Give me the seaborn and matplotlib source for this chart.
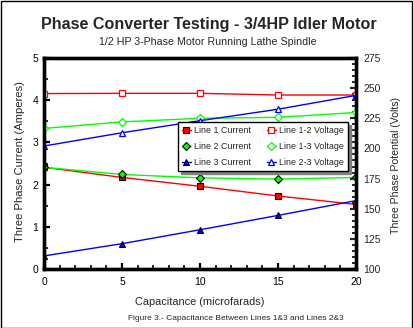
import matplotlib
matplotlib.use("Agg")
import matplotlib.pyplot as plt
from matplotlib.ticker import MultipleLocator
from matplotlib.patches import Rectangle
import seaborn as sns
import pandas as pd

# ---- data ----
capacitance = [0, 5, 10, 15, 20]
line1_current = [2.41, 2.17, 1.96, 1.73, 1.53]
line2_current = [2.41, 2.24, 2.16, 2.13, 2.17]
line3_current = [0.31, 0.60, 0.93, 1.27, 1.62]
line12_voltage = [245.5, 245.7, 245.7, 244.3, 244.3]
line13_voltage = [216.6, 222.0, 225.0, 225.8, 229.8]
line23_voltage = [202.0, 213.0, 223.0, 232.5, 244.0]

current_names = ["Line 1 Current", "Line 2 Current", "Line 3 Current"]
voltage_names = ["Line 1-2 Voltage", "Line 1-3 Voltage", "Line 2-3 Voltage"]
x_ticks = [0, 5, 10, 15, 20]
left_ticks = [0, 1, 2, 3, 4, 5]
right_ticks = [100, 125, 150, 175, 200, 225, 250, 275]

sns.set_style("white")
plt.rcParams["font.family"] = ["Liberation Sans", "DejaVu Sans"]

RED, GREEN, BLUE = "#ff0000", "#00ff00", "#0000ff"
colors = [RED, GREEN, BLUE]
markers = ["s", "D", "^"]

fig = plt.figure(figsize=(4.13, 3.28), dpi=100)
W, H = 413, 328
L, R, T, B = 44, 356, 58, 269
ax = fig.add_axes([L / W, 1 - B / H, (R - L) / W, (B - T) / H])
ax2 = ax.twinx()

handles = []
for vals, name, c, m in zip([line1_current, line2_current, line3_current],
                            current_names, colors, markers):
    df = pd.DataFrame({"x": capacitance, "y": vals})
    sns.lineplot(data=df, x="x", y="y", ax=ax, color=c, lw=1.0,
                 marker=m, markersize=4.8 if m != "D" else 4.3,
                 markerfacecolor=c, markeredgecolor="black",
                 markeredgewidth=0.8, label=name, legend=False)
    handles.append(ax.lines[-1])

vhandles = []
for vals, name, c, m in zip([line12_voltage, line13_voltage, line23_voltage],
                            voltage_names, colors, markers):
    df = pd.DataFrame({"x": capacitance, "y": vals})
    sns.lineplot(data=df, x="x", y="y", ax=ax2, color=c, lw=1.0,
                 marker=m, markersize=4.8 if m != "D" else 4.3,
                 markerfacecolor="white", markeredgecolor=c,
                 markeredgewidth=0.9, label=name, legend=False)
    vhandles.append(ax2.lines[-1])

ax.set_xlim(0, 20)
ax.set_ylim(0, 5)
ax2.set_ylim(100, 275)
ax.set_xticks(x_ticks)
ax.set_yticks(left_ticks)
ax2.set_yticks(right_ticks)
ax.xaxis.set_minor_locator(MultipleLocator(1))
ax.yaxis.set_minor_locator(MultipleLocator(0.5))
ax2.yaxis.set_minor_locator(MultipleLocator(5))
ax.set_xlabel("")
ax.set_ylabel("")
ax2.set_ylabel("")

for a in (ax, ax2):
    for s in a.spines.values():
        s.set_linewidth(2.4)
        s.set_color("black")
        s.set_visible(True)

ax.tick_params(axis="both", which="major", direction="in", length=4,
               width=1.6, labelsize=7.5, colors="black", pad=4)
ax.tick_params(axis="both", which="minor", direction="in", length=3,
               width=1.4)
ax.tick_params(axis="x", pad=6)
ax.tick_params(axis="both", which="both", left=True, bottom=True)
ax2.tick_params(axis="y", which="major", direction="in", length=4,
                width=1.6, labelsize=7.5, pad=5, right=True)
ax2.tick_params(axis="y", which="minor", direction="in", length=3,
                width=1.4, right=True)

leg = ax2.legend(handles + vhandles, current_names + voltage_names,
                 ncol=2, loc="lower left",
                 bbox_to_anchor=((178 - L) / (R - L), (B - 171) / (B - T),
                                 (348 - 178) / (R - L), (171 - 124) / (B - T)),
                 mode="expand", borderaxespad=0, fontsize=6.4,
                 frameon=True, fancybox=False, shadow={"color": "#808080", "alpha": 1},
                 edgecolor="black", framealpha=1, labelspacing=0.8,
                 handlelength=1.0, handletextpad=0.4, columnspacing=0.6,
                 borderpad=0.45)
leg.get_frame().set_linewidth(1.0)
leg.set_zorder(10)

fig.text(0.506, 1 - 25 / H, "Phase Converter Testing - 3/4HP Idler Motor",
         ha="center", va="center", fontsize=11.6, fontweight="bold")
fig.text(0.502, 1 - 42 / H, "1/2 HP 3-Phase Motor Running Lathe Spindle",
         ha="center", va="center", fontsize=7.7)
fig.text(200 / W, 1 - 302 / H, "Capacitance (microfarads)",
         ha="center", va="center", fontsize=7.9)
fig.text(236 / W, 1 - 318 / H,
         "Figure 3.- Capacitance Between Lines 1&3 and Lines 2&3",
         ha="center", va="center", fontsize=6.0)
fig.text(20 / W, 1 - 162 / H, "Three Phase Current (Amperes)",
         ha="center", va="center", rotation=90, fontsize=8.1)
fig.text(396 / W, 1 - 165 / H, "Three Phase Potential (Volts)",
         ha="center", va="center", rotation=90, fontsize=7.6)

fig.patches.append(Rectangle((0.5 / W, 0.5 / H), 1 - 1.5 / W, 1 - 1.5 / H,
                             transform=fig.transFigure, fill=False,
                             edgecolor="black", linewidth=1.0))

fig.savefig("out.png", dpi=100, facecolor="white")
